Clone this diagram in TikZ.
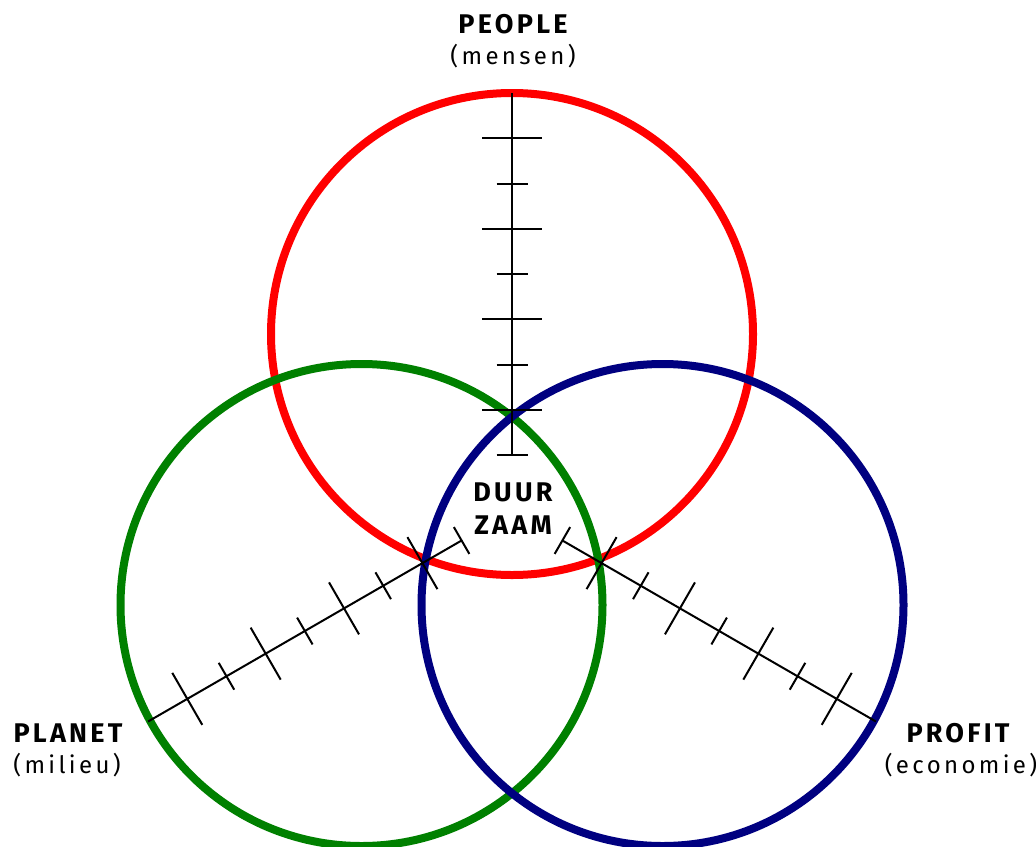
\documentclass[tikz,border=0pt]{standalone}
\usepackage{fontspec}
\setmainfont{Fira Sans}
\newfontfamily\lblfont{Fira Sans}[LetterSpace=12]
\newfontfamily\subfont{Fira Sans}[LetterSpace=14]
\usetikzlibrary{calc}
\definecolor{cred}{RGB}{255,0,0}
\definecolor{cgreen}{RGB}{0,128,0}
\definecolor{cblue}{RGB}{0,0,128}
\begin{document}
\begin{tikzpicture}[x=1pt,y=-1pt,
  ring/.style={line width=8pt},
  axisline/.style={line width=2pt, black},
  head/.style={font=\lblfont\bfseries\fontsize{27}{32}\selectfont, inner sep=0pt},
  sub/.style={font=\subfont\fontsize{24}{30}\selectfont, inner sep=0pt}]
\useasboundingbox (0,0) rectangle (1036,846);
% circles
\draw[ring, cred]   (512,334)   circle[radius=241pt];
\draw[ring, cgreen] (361.5,605) circle[radius=241pt];
\draw[ring, cblue]  (662.5,605) circle[radius=241pt];
% axes
\coordinate (pA) at (512,93);
\coordinate (pB) at (512,455);
\coordinate (lA) at (148.1,721.5);
\coordinate (lB) at (461.6,540.5);
\coordinate (rA) at (875.9,721.5);
\coordinate (rB) at (562.4,540.5);
\foreach \A/\B in {pA/pB, lA/lB, rA/rB} {
  \draw[axisline] (\A) -- (\B);
  \foreach \k in {1,...,8} {
    \pgfmathsetmacro\h{mod(\k,2)==1 ? 30 : 15.5}
    \coordinate (t) at ($(\A)!\k/8!(\B)$);
    \draw[axisline] ($(t)!\h pt!90:(\A)$) -- ($(t)!\h pt!-90:(\A)$);
  }
}
% labels
\node[head] (people) at (513,24.5) {PEOPLE};
\node[sub] (mensen) at (513,56.5) {(mensen)};
\node[head] (planet) at (68,733) {PLANET};
\node[sub] (milieu) at (67,765.5) {(milieu)};
\node[head] (profit) at (958,733) {PROFIT};
\node[sub] (economie) at (961,765.5) {(economie)};
\node[head] (duur) at (513,492) {DUUR};
\node[head] (zaam) at (513,525.5) {ZAAM};
\end{tikzpicture}
\end{document}
